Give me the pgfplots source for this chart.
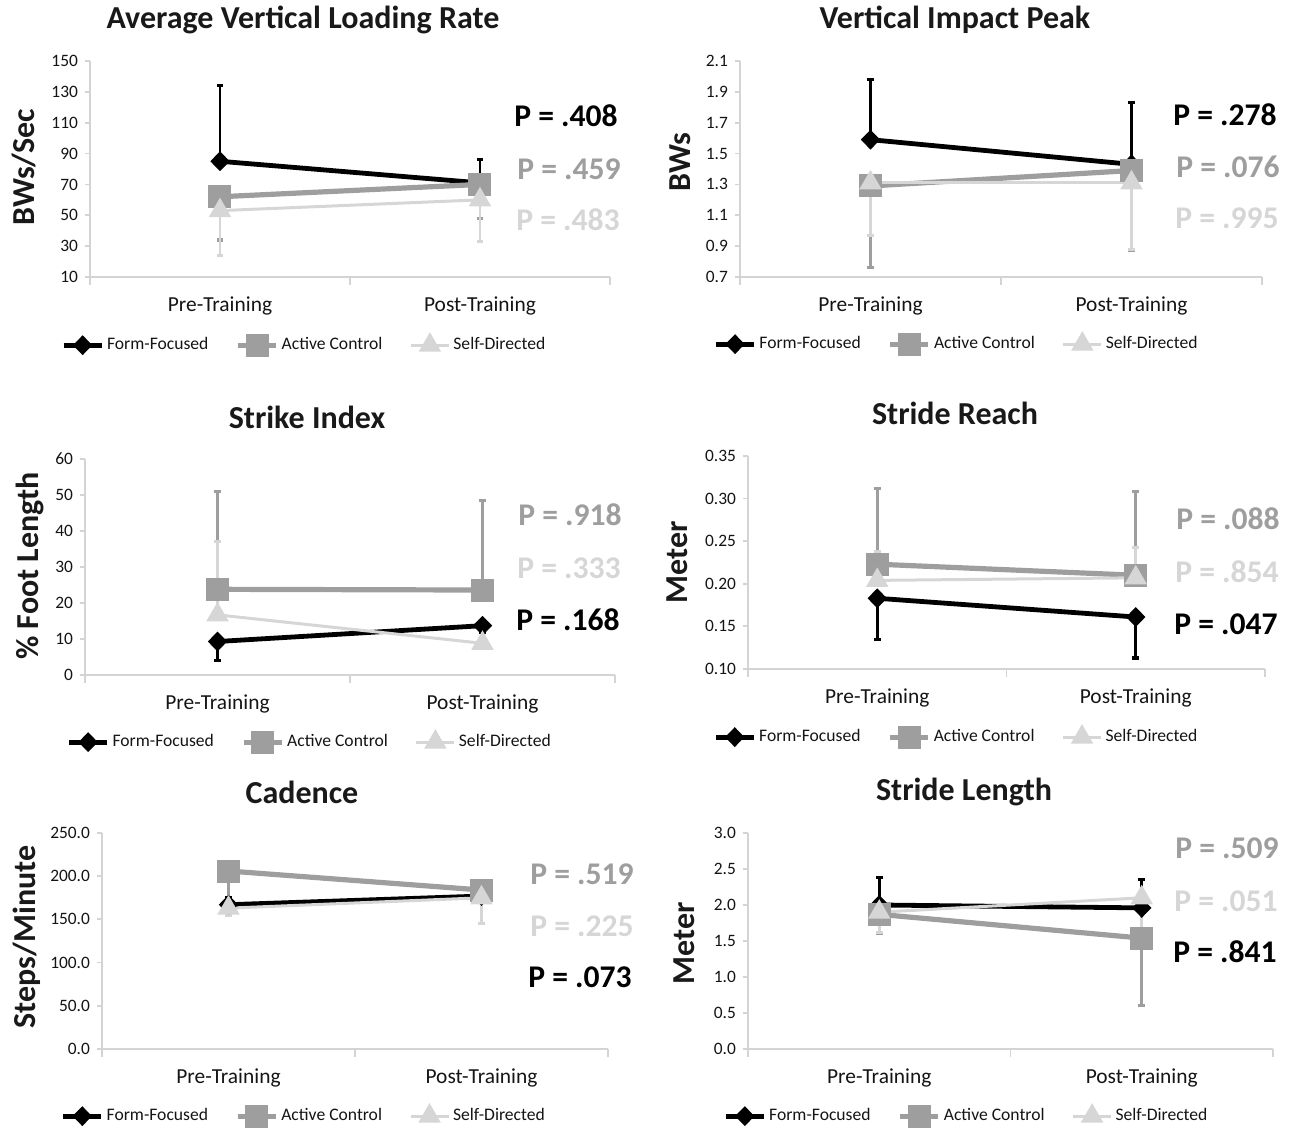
\documentclass[border=0pt]{standalone}
\usepackage{pgfplots}
\pgfplotsset{compat=1.18}
\usepackage{fontspec}
\setmainfont{Carlito}
\definecolor{ac}{RGB}{158,158,158}
\definecolor{sd}{RGB}{214,214,214}
\definecolor{axisgray}{RGB}{212,212,212}
\pgfplotsset{
  panel/.style={
    scale only axis, clip=false,
    xmin=0, xmax=2, enlargelimits=false,
    axis x line=bottom, axis y line=left,
    axis line style={-, draw=axisgray, line width=0.9pt},
    xtick={0.5,1.5},
    xticklabels={Pre-Training,Post-Training},
    minor xtick={0,1,2},
    major x tick style={draw=none},
    minor x tick style={draw=axisgray, line width=0.9pt},
    tick align=outside,
    minor tick length=4pt,
    major tick length=2.5pt,
    ytick style={draw=axisgray, line width=0.9pt},
    /pgf/number format/assume math mode=true,
    yticklabel style={font=\fontsize{8.7}{10}\selectfont, text=black!92},
    xticklabel style={font=\fontsize{10.7}{12}\selectfont, text=black!92, yshift=-4pt},
    legend columns=3,
    legend style={draw=none, fill=none, anchor=center,
      font=\fontsize{8.8}{10}\selectfont, text=black!92,
      nodes={inner xsep=1.5pt},
      /tikz/every even column/.append style={column sep=12pt}},
    legend image code/.code={\draw[mark repeat=2,mark phase=2,##1] plot coordinates {(0pt,0pt) (9.5pt,0pt) (19pt,0pt)};},
  },
  ffs/.style={color=black, line width=2.4pt, mark=diamond*, mark size=4.6pt,
    mark options={solid, fill=black, line width=0.5pt, xscale=1.3},
    error bars/y explicit,
    error bars/error bar style={line width=1.3pt, black},
    error bars/error mark options={rotate=90, mark size=1.7pt, line width=1.6pt, black}},
  acs/.style={color=ac, line width=2.6pt, mark=square*, mark size=5.5pt,
    mark options={solid, fill=ac, line width=0.5pt},
    error bars/y explicit,
    error bars/error bar style={line width=1.3pt, ac},
    error bars/error mark options={rotate=90, mark size=1.7pt, line width=1.6pt, ac}},
  sds/.style={color=sd, line width=1.5pt, mark=triangle*, mark size=6pt,
    mark options={solid, fill=sd, line width=0.5pt},
    error bars/y explicit,
    error bars/error bar style={line width=1.3pt, sd},
    error bars/error mark options={rotate=90, mark size=1.7pt, line width=1.6pt, sd}},
}
\newcommand{\ttl}[2]{\node[font=\fontsize{16}{18}\selectfont\bfseries, text=black!90] at (#1) {#2};}
\newcommand{\ylab}[2]{\node[font=\fontsize{16}{18}\selectfont\bfseries, text=black!90, rotate=90] at (#1) {#2};}
\newcommand{\pv}[3]{\node[font=\fontsize{15.8}{18}\selectfont\bfseries, text=#2] at (#1) {P = #3};}
\begin{document}
\begin{tikzpicture}[x=0.5pt,y=0.5pt]
\useasboundingbox (0,0) rectangle (1298,1129);
\coordinate (A1) at (90,852);
\coordinate (A2) at (740,852);
\coordinate (A3) at (85,454);
\coordinate (A4) at (748,460);
\coordinate (A5) at (102,80);
\coordinate (A6) at (748,80);

% ---------- Panel 1: Average Vertical Loading Rate
\begin{axis}[panel, at={(A1)}, anchor=south west, width=260pt, height=108pt,
  ymin=10, ymax=150, ytick={10,30,...,150},
  legend style={at={(0.413,-0.315)}}]
\addplot[ffs, error bars/y dir=plus] coordinates {(0.5,85) +- (0,49) (1.5,71) +- (0,15)};
\addlegendentry{Form-Focused}
\addplot[acs, error bars/y dir=minus] coordinates {(0.5,62) +- (0,28) (1.5,70) +- (0,22)};
\addlegendentry{Active Control}
\addplot[sds, error bars/y dir=minus] coordinates {(0.5,53) +- (0,29) (1.5,60) +- (0,27)};
\addlegendentry{Self-Directed}
\end{axis}

% ---------- Panel 2: Vertical Impact Peak
\begin{axis}[panel, at={(A2)}, anchor=south west, width=261pt, height=108pt,
  ymin=0.7, ymax=2.1, ytick={0.7,0.9,1.1,1.3,1.5,1.7,1.9,2.1},
  yticklabel style={/pgf/number format/.cd, fixed, fixed zerofill, precision=1},
  legend style={at={(0.416,-0.31)}}]
\addplot[ffs, error bars/y dir=plus] coordinates {(0.5,1.59) +- (0,0.39) (1.5,1.43) +- (0,0.40)};
\addlegendentry{Form-Focused}
\addplot[acs, error bars/y dir=minus] coordinates {(0.5,1.29) +- (0,0.53) (1.5,1.39) +- (0,0.52)};
\addlegendentry{Active Control}
\addplot[sds, error bars/y dir=minus] coordinates {(0.5,1.31) +- (0,0.34) (1.5,1.31) +- (0,0.43)};
\addlegendentry{Self-Directed}
\end{axis}

% ---------- Panel 3: Strike Index
\begin{axis}[panel, at={(A3)}, anchor=south west, width=265pt, height=108pt,
  ymin=0, ymax=60, ytick={0,10,...,60},
  legend style={at={(0.425,-0.31)}}]
\addplot[ffs, error bars/y dir=minus] coordinates {(0.5,9.3) +- (0,5.3) (1.5,13.7) +- (0,2)};
\addlegendentry{Form-Focused}
\addplot[acs, error bars/y dir=plus] coordinates {(0.5,23.8) +- (0,27.2) (1.5,23.6) +- (0,24.9)};
\addlegendentry{Active Control}
\addplot[sds, error bars/y dir=plus] coordinates {(0.5,16.7) +- (0,20.3) (1.5,8.8) +- (0,4)};
\addlegendentry{Self-Directed}
\end{axis}

% ---------- Panel 4: Stride Reach
\begin{axis}[panel, at={(A4)}, anchor=south west, width=258.5pt, height=106.5pt,
  ymin=0.10, ymax=0.35, ytick={0.10,0.15,0.20,0.25,0.30,0.35},
  yticklabel style={/pgf/number format/.cd, fixed, fixed zerofill, precision=2},
  legend style={at={(0.404,-0.319)}}]
\addplot[ffs, error bars/y dir=minus] coordinates {(0.5,0.183) +- (0,0.048) (1.5,0.161) +- (0,0.048)};
\addlegendentry{Form-Focused}
\addplot[acs, error bars/y dir=plus] coordinates {(0.5,0.223) +- (0,0.089) (1.5,0.210) +- (0,0.098)};
\addlegendentry{Active Control}
\addplot[sds, error bars/y dir=plus] coordinates {(0.5,0.204) +- (0,0.034) (1.5,0.207) +- (0,0.036)};
\addlegendentry{Self-Directed}
\end{axis}

% ---------- Panel 5: Cadence
\begin{axis}[panel, at={(A5)}, anchor=south west, width=253pt, height=108pt,
  ymin=0, ymax=250, ytick={0,50,...,250},
  yticklabel style={/pgf/number format/.cd, fixed, fixed zerofill, precision=1},
  legend style={at={(0.40,-0.31)}}]
\addplot[ffs, error bars/y dir=plus] coordinates {(0.5,167) +- (0,8) (1.5,177) +- (0,4)};
\addlegendentry{Form-Focused}
\addplot[acs, error bars/y dir=minus] coordinates {(0.5,206) +- (0,38) (1.5,184) +- (0,10)};
\addlegendentry{Active Control}
\addplot[sds, error bars/y dir=minus] coordinates {(0.5,163) +- (0,8) (1.5,175) +- (0,30)};
\addlegendentry{Self-Directed}
\end{axis}

% ---------- Panel 6: Stride Length
\begin{axis}[panel, at={(A6)}, anchor=south west, width=262.5pt, height=108pt,
  ymin=0, ymax=3, ytick={0,0.5,1,1.5,2,2.5,3},
  yticklabel style={/pgf/number format/.cd, fixed, fixed zerofill, precision=1},
  legend style={at={(0.417,-0.31)}}]
\addplot[ffs, error bars/y dir=plus] coordinates {(0.5,2.00) +- (0,0.38) (1.5,1.96) +- (0,0.39)};
\addlegendentry{Form-Focused}
\addplot[acs, error bars/y dir=minus] coordinates {(0.5,1.87) +- (0,0.27) (1.5,1.54) +- (0,0.94)};
\addlegendentry{Active Control}
\addplot[sds, error bars/y dir=minus] coordinates {(0.5,1.90) +- (0,0.28) (1.5,2.10) +- (0,0.45)};
\addlegendentry{Self-Directed}
\end{axis}

% ---------- titles
\ttl{303,1109}{Average Vertical Loading Rate}
\ttl{955,1109}{Vertical Impact Peak}
\ttl{307,712}{Strike Index}
\ttl{955,716}{Stride Reach}
\ttl{302,337}{Cadence}
\ttl{964,337}{Stride Length}

% ---------- y labels
\ylab{24,962}{BWs/Sec}
\ylab{680,967}{BWs}
\ylab{30,563}{\% Foot Length}
\ylab{677,567}{Meter}
\ylab{27,192}{Steps/Minute}
\ylab{684,186}{Meter}

% ---------- P values
\pv{566,1013}{black}{.408}
\pv{569,960}{ac}{.459}
\pv{568,909}{sd}{.483}
\pv{1225,1014}{black}{.278}
\pv{1228,962}{ac}{.076}
\pv{1227,911}{sd}{.995}
\pv{570,614}{ac}{.918}
\pv{569,561}{sd}{.333}
\pv{568,509}{black}{.168}
\pv{1228,610}{ac}{.088}
\pv{1227,557}{sd}{.854}
\pv{1226,505}{black}{.047}
\pv{582,255}{ac}{.519}
\pv{582,203}{sd}{.225}
\pv{580,152}{black}{.073}
\pv{1227,281}{ac}{.509}
\pv{1226,228}{sd}{.051}
\pv{1225,177}{black}{.841}
\end{tikzpicture}
\end{document}
